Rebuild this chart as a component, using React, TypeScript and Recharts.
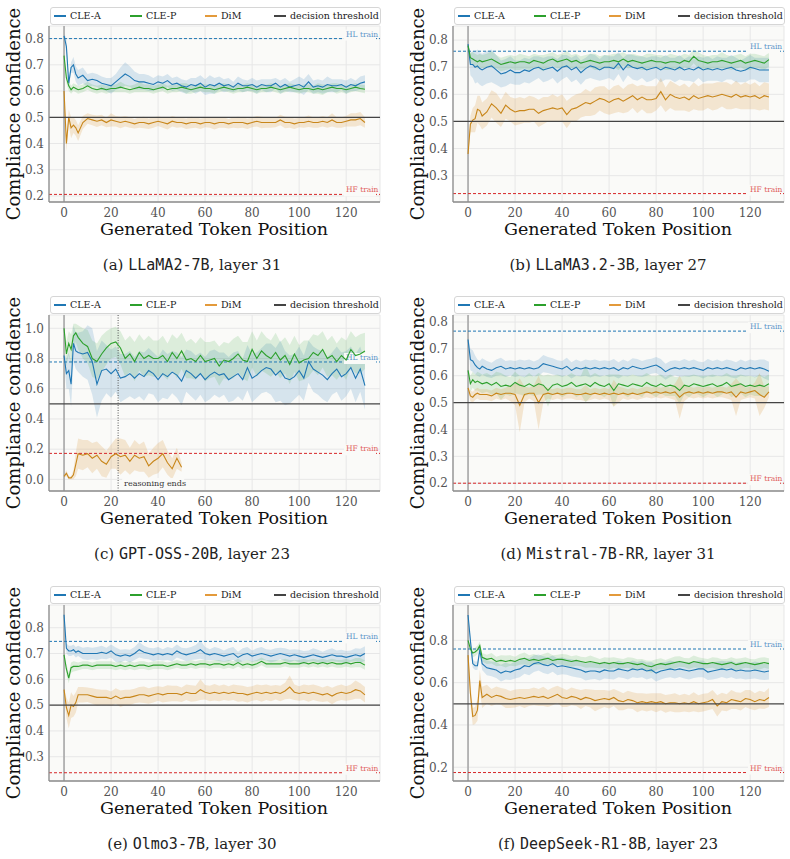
import {
  Area,
  CartesianGrid,
  ComposedChart,
  Line,
  ReferenceLine,
  XAxis,
  YAxis,
} from "recharts";

const SERIF = '"DejaVu Serif", serif';
const MONO = '"DejaVu Sans Mono", monospace';

const CLE_A_COLOR = "#1f77b4";
const CLE_P_COLOR = "#2ca02c";
const DIM_COLOR = "#c8861a";
const DIM_BAND = "#dc9c45";
const THRESHOLD_COLOR = "#444444";

const TOKENS = [
  0, 1, 2, 3, 4, 5, 6,
  8, 10, 12, 14, 16, 18, 20, 22, 24, 26,
  28, 30, 32, 34, 36, 38, 40, 42, 44, 46,
  48, 50, 52, 54, 56, 58, 60, 62, 64, 66,
  68, 70, 72, 74, 76, 78, 80, 82, 84, 86,
  88, 90, 92, 94, 96, 98, 100, 102, 104, 106,
  108, 110, 112, 114, 116, 118, 120, 122, 124, 126,
  128,
];
const X_TICKS = [0, 20, 40, 60, 80, 100, 120];

const LEGEND_ITEMS = [
  { label: "CLE-A", color: CLE_A_COLOR, offset: 3 },
  { label: "CLE-P", color: CLE_P_COLOR, offset: 79 },
  { label: "DiM", color: "#e39a3b", offset: 154 },
  { label: "decision threshold", color: THRESHOLD_COLOR, offset: 223 },
];

// (a) LLaMA2-7B
const llamaCleA = [
  0.81, 0.77, 0.63, 0.69, 0.70, 0.665, 0.65,
  0.66, 0.64, 0.645, 0.64, 0.63, 0.625, 0.62, 0.635, 0.65, 0.665,
  0.655, 0.64, 0.635, 0.635, 0.63, 0.625, 0.635, 0.63, 0.64, 0.625,
  0.63, 0.62, 0.615, 0.625, 0.62, 0.63, 0.615, 0.625, 0.62, 0.63,
  0.62, 0.625, 0.615, 0.63, 0.62, 0.62, 0.625, 0.615, 0.625, 0.62,
  0.62, 0.63, 0.615, 0.625, 0.615, 0.62, 0.625, 0.615, 0.635, 0.615,
  0.62, 0.615, 0.625, 0.62, 0.62, 0.625, 0.615, 0.625, 0.62, 0.63,
  0.635,
];
const llamaCleASpread = [
  0.01, 0.03, 0.02, 0.02, 0.03, 0.03, 0.03,
  0.03, 0.025, 0.025, 0.025, 0.025, 0.025, 0.03, 0.03, 0.04, 0.045,
  0.04, 0.035, 0.03, 0.03, 0.03, 0.025, 0.025, 0.025, 0.025, 0.025,
  0.025, 0.025, 0.025, 0.025, 0.03, 0.03, 0.03, 0.035, 0.03, 0.025,
  0.025, 0.025, 0.02, 0.025, 0.025, 0.02, 0.025, 0.025, 0.02, 0.025,
  0.025, 0.02, 0.025, 0.025, 0.02, 0.025, 0.03, 0.03, 0.03, 0.025,
  0.025, 0.025, 0.03, 0.025, 0.025, 0.02, 0.025, 0.025, 0.02, 0.025,
  0.025,
];
const llamaCleP = [
  0.735, 0.65, 0.62, 0.605, 0.615, 0.61, 0.605,
  0.61, 0.62, 0.61, 0.605, 0.61, 0.605, 0.61, 0.61, 0.615, 0.61,
  0.605, 0.61, 0.615, 0.61, 0.61, 0.605, 0.61, 0.615, 0.605, 0.61,
  0.61, 0.615, 0.61, 0.605, 0.61, 0.615, 0.61, 0.61, 0.605, 0.61,
  0.615, 0.61, 0.605, 0.61, 0.61, 0.615, 0.61, 0.605, 0.61, 0.61,
  0.615, 0.61, 0.605, 0.61, 0.615, 0.61, 0.605, 0.61, 0.61, 0.605,
  0.61, 0.605, 0.61, 0.615, 0.61, 0.61, 0.605, 0.61, 0.615, 0.61,
  0.607,
];
const llamaClePSpread = [
  0.01, 0.02, 0.02, 0.015, 0.015, 0.015, 0.015,
  0.015, 0.015, 0.015, 0.015, 0.015, 0.015, 0.015, 0.015, 0.02, 0.015,
  0.015, 0.015, 0.02, 0.015, 0.015, 0.015, 0.015, 0.015, 0.015, 0.015,
  0.015, 0.015, 0.02, 0.015, 0.015, 0.015, 0.015, 0.015, 0.015, 0.015,
  0.015, 0.015, 0.015, 0.015, 0.015, 0.015, 0.015, 0.015, 0.015, 0.015,
  0.015, 0.015, 0.015, 0.015, 0.015, 0.015, 0.015, 0.015, 0.015, 0.015,
  0.02, 0.02, 0.015, 0.015, 0.02, 0.015, 0.015, 0.015, 0.015, 0.015,
  0.015,
];
const llamaDim = [
  0.60, 0.40, 0.50, 0.46, 0.47, 0.46, 0.44,
  0.48, 0.495, 0.49, 0.485, 0.49, 0.48, 0.49, 0.485, 0.48, 0.485,
  0.48, 0.475, 0.48, 0.48, 0.475, 0.48, 0.485, 0.48, 0.475, 0.485,
  0.48, 0.48, 0.475, 0.48, 0.48, 0.475, 0.48, 0.48, 0.475, 0.48,
  0.48, 0.475, 0.48, 0.48, 0.48, 0.475, 0.48, 0.485, 0.48, 0.48,
  0.48, 0.48, 0.49, 0.48, 0.48, 0.475, 0.48, 0.48, 0.485, 0.48,
  0.48, 0.485, 0.48, 0.49, 0.48, 0.48, 0.485, 0.49, 0.49, 0.495,
  0.48,
];
const llamaDimSpread = [
  0.01, 0.03, 0.03, 0.04, 0.03, 0.03, 0.03,
  0.025, 0.02, 0.02, 0.022, 0.02, 0.018, 0.025, 0.02, 0.022, 0.02,
  0.02, 0.018, 0.02, 0.022, 0.02, 0.02, 0.018, 0.02, 0.022, 0.02,
  0.02, 0.018, 0.02, 0.022, 0.02, 0.02, 0.018, 0.02, 0.022, 0.02,
  0.02, 0.018, 0.02, 0.022, 0.02, 0.02, 0.018, 0.02, 0.022, 0.02,
  0.02, 0.018, 0.02, 0.022, 0.02, 0.02, 0.018, 0.02, 0.022, 0.02,
  0.02, 0.02, 0.02, 0.025, 0.02, 0.02, 0.02, 0.025, 0.025, 0.025,
  0.02,
];

// (b) LLaMA3.2-3B
const llama3CleA = [
  0.785, 0.71, 0.71, 0.70, 0.705, 0.695, 0.69,
  0.70, 0.705, 0.69, 0.675, 0.68, 0.69, 0.68, 0.68, 0.69, 0.685,
  0.695, 0.70, 0.69, 0.695, 0.70, 0.685, 0.70, 0.705, 0.69, 0.70,
  0.68, 0.695, 0.705, 0.70, 0.69, 0.70, 0.70, 0.695, 0.715, 0.69,
  0.71, 0.70, 0.695, 0.70, 0.69, 0.695, 0.70, 0.69, 0.70, 0.695,
  0.69, 0.70, 0.69, 0.695, 0.69, 0.70, 0.69, 0.695, 0.69, 0.695,
  0.69, 0.695, 0.70, 0.69, 0.685, 0.69, 0.70, 0.695, 0.69, 0.69,
  0.69,
];
const llama3CleASpread = [
  0.01, 0.04, 0.05, 0.06, 0.06, 0.06, 0.06,
  0.06, 0.06, 0.055, 0.05, 0.05, 0.05, 0.045, 0.045, 0.045, 0.045,
  0.045, 0.04, 0.045, 0.045, 0.04, 0.045, 0.045, 0.04, 0.045, 0.045,
  0.045, 0.04, 0.045, 0.045, 0.04, 0.045, 0.04, 0.045, 0.04, 0.045,
  0.04, 0.045, 0.045, 0.04, 0.045, 0.045, 0.04, 0.045, 0.045, 0.04,
  0.045, 0.045, 0.04, 0.045, 0.045, 0.04, 0.045, 0.045, 0.04, 0.045,
  0.045, 0.04, 0.045, 0.045, 0.04, 0.045, 0.045, 0.04, 0.045, 0.045,
  0.045,
];
const llama3CleP = [
  0.78, 0.735, 0.73, 0.725, 0.72, 0.725, 0.72,
  0.725, 0.73, 0.72, 0.71, 0.715, 0.72, 0.715, 0.72, 0.72, 0.715,
  0.725, 0.72, 0.715, 0.725, 0.73, 0.72, 0.725, 0.73, 0.72, 0.725,
  0.715, 0.72, 0.725, 0.72, 0.715, 0.72, 0.72, 0.725, 0.72, 0.73,
  0.72, 0.725, 0.72, 0.715, 0.72, 0.725, 0.72, 0.72, 0.715, 0.72,
  0.72, 0.715, 0.725, 0.72, 0.74, 0.725, 0.72, 0.715, 0.72, 0.72,
  0.725, 0.72, 0.715, 0.72, 0.725, 0.715, 0.72, 0.725, 0.72, 0.715,
  0.728,
];
const llama3ClePSpread = [
  0.01, 0.02, 0.025, 0.025, 0.025, 0.025, 0.025,
  0.025, 0.03, 0.025, 0.025, 0.025, 0.025, 0.025, 0.03, 0.025, 0.025,
  0.025, 0.025, 0.03, 0.025, 0.025, 0.025, 0.025, 0.03, 0.025, 0.025,
  0.025, 0.025, 0.025, 0.03, 0.025, 0.025, 0.025, 0.025, 0.03, 0.025,
  0.025, 0.025, 0.025, 0.025, 0.03, 0.025, 0.025, 0.025, 0.025, 0.03,
  0.025, 0.025, 0.025, 0.025, 0.025, 0.03, 0.025, 0.025, 0.025, 0.025,
  0.03, 0.025, 0.025, 0.025, 0.025, 0.025, 0.03, 0.025, 0.025, 0.025,
  0.025,
];
const llama3Dim = [
  0.38, 0.49, 0.505, 0.51, 0.545, 0.54, 0.52,
  0.535, 0.565, 0.55, 0.53, 0.56, 0.545, 0.535, 0.54, 0.54, 0.545,
  0.545, 0.53, 0.54, 0.545, 0.55, 0.545, 0.55, 0.525, 0.545, 0.55,
  0.56, 0.57, 0.565, 0.575, 0.585, 0.58, 0.57, 0.58, 0.585, 0.575,
  0.585, 0.595, 0.58, 0.59, 0.58, 0.58, 0.585, 0.61, 0.58, 0.60,
  0.59, 0.585, 0.59, 0.58, 0.595, 0.585, 0.59, 0.595, 0.59, 0.595,
  0.60, 0.595, 0.59, 0.60, 0.59, 0.595, 0.59, 0.595, 0.585, 0.595,
  0.59,
];
const llama3DimSpread = [
  0.01, 0.03, 0.045, 0.05, 0.05, 0.055, 0.05,
  0.05, 0.05, 0.055, 0.05, 0.05, 0.045, 0.05, 0.05, 0.045, 0.05,
  0.045, 0.05, 0.05, 0.045, 0.05, 0.045, 0.05, 0.05, 0.045, 0.05,
  0.045, 0.05, 0.045, 0.05, 0.045, 0.05, 0.045, 0.05, 0.05, 0.045,
  0.05, 0.045, 0.05, 0.045, 0.05, 0.05, 0.045, 0.05, 0.045, 0.05,
  0.05, 0.045, 0.05, 0.045, 0.05, 0.045, 0.05, 0.045, 0.05, 0.05,
  0.045, 0.05, 0.045, 0.05, 0.045, 0.05, 0.045, 0.05, 0.045, 0.05,
  0.05,
];

// (c) GPT-OSS-20B
const gptCleA = [
  0.82, 0.70, 0.72, 0.63, 0.90, 0.85, 0.84,
  0.83, 0.84, 0.78, 0.63, 0.72, 0.73, 0.70, 0.73, 0.67, 0.68,
  0.70, 0.67, 0.70, 0.68, 0.72, 0.70, 0.66, 0.70, 0.68, 0.71,
  0.69, 0.65, 0.72, 0.70, 0.67, 0.70, 0.66, 0.69, 0.71, 0.69,
  0.70, 0.66, 0.68, 0.70, 0.66, 0.74, 0.67, 0.69, 0.72, 0.74,
  0.73, 0.69, 0.72, 0.67, 0.66, 0.68, 0.72, 0.67, 0.78, 0.73,
  0.71, 0.69, 0.66, 0.70, 0.73, 0.68, 0.70, 0.74, 0.67, 0.73,
  0.62,
];
const gptCleASpread = [
  0.02, 0.10, 0.12, 0.15, 0.12, 0.12, 0.13,
  0.15, 0.18, 0.22, 0.22, 0.20, 0.16, 0.16, 0.15, 0.16, 0.15,
  0.15, 0.14, 0.15, 0.16, 0.15, 0.14, 0.15, 0.16, 0.15, 0.14,
  0.15, 0.16, 0.14, 0.15, 0.15, 0.14, 0.15, 0.16, 0.15, 0.15,
  0.14, 0.15, 0.16, 0.15, 0.14, 0.15, 0.16, 0.15, 0.15, 0.16,
  0.17, 0.18, 0.20, 0.18, 0.16, 0.15, 0.16, 0.15, 0.14, 0.15,
  0.15, 0.16, 0.15, 0.14, 0.15, 0.16, 0.15, 0.14, 0.16, 0.15,
  0.16,
];
const gptCleP = [
  1.0, 0.83, 0.90, 0.86, 0.95, 0.97, 0.94,
  0.90, 0.88, 0.80, 0.78, 0.83, 0.87, 0.90, 0.91, 0.87, 0.80,
  0.83, 0.78, 0.84, 0.80, 0.82, 0.80, 0.80, 0.82, 0.78, 0.84,
  0.80, 0.85, 0.79, 0.80, 0.78, 0.82, 0.78, 0.79, 0.80, 0.75,
  0.79, 0.78, 0.80, 0.83, 0.79, 0.78, 0.86, 0.80, 0.85, 0.82,
  0.80, 0.84, 0.79, 0.82, 0.76, 0.83, 0.77, 0.79, 0.80, 0.84,
  0.82, 0.86, 0.80, 0.82, 0.78, 0.82, 0.79, 0.86, 0.82, 0.83,
  0.85,
];
const gptClePSpread = [
  0.01, 0.08, 0.08, 0.10, 0.08, 0.06, 0.08,
  0.10, 0.11, 0.12, 0.12, 0.12, 0.11, 0.10, 0.10, 0.11, 0.12,
  0.12, 0.13, 0.12, 0.12, 0.13, 0.12, 0.12, 0.13, 0.12, 0.12,
  0.13, 0.12, 0.12, 0.13, 0.12, 0.12, 0.13, 0.12, 0.12, 0.13,
  0.12, 0.12, 0.13, 0.12, 0.12, 0.13, 0.12, 0.12, 0.13, 0.12,
  0.12, 0.13, 0.12, 0.12, 0.13, 0.12, 0.12, 0.13, 0.12, 0.12,
  0.13, 0.12, 0.12, 0.13, 0.12, 0.12, 0.13, 0.12, 0.12, 0.13,
  0.12,
];
// DiM stops once the reasoning trace is over (token 50)
const gptDim = [
  0.02, 0.04, 0.01, 0.01, 0.03, 0.10, 0.17,
  0.16, 0.17, 0.14, 0.16, 0.12, 0.10, 0.15, 0.17, 0.15, 0.16,
  0.12, 0.16, 0.14, 0.15, 0.09, 0.12, 0.14, 0.17, 0.11, 0.07,
  0.14, 0.08,
];
const gptDimSpread = [
  0.01, 0.02, 0.01, 0.01, 0.03, 0.08, 0.10,
  0.10, 0.09, 0.10, 0.09, 0.10, 0.09, 0.08, 0.10, 0.12, 0.10,
  0.09, 0.10, 0.09, 0.10, 0.08, 0.09, 0.10, 0.09, 0.08, 0.07,
  0.07, 0.03,
];

// (d) Mistral-7B-RR
const mistralCleA = [
  0.735, 0.66, 0.655, 0.64, 0.63, 0.625, 0.635,
  0.625, 0.62, 0.63, 0.635, 0.625, 0.63, 0.625, 0.63, 0.625, 0.63,
  0.625, 0.63, 0.645, 0.64, 0.635, 0.63, 0.625, 0.635, 0.62, 0.63,
  0.625, 0.63, 0.625, 0.63, 0.625, 0.63, 0.625, 0.63, 0.62, 0.63,
  0.625, 0.635, 0.63, 0.625, 0.63, 0.635, 0.64, 0.63, 0.615, 0.625,
  0.63, 0.625, 0.63, 0.625, 0.63, 0.625, 0.62, 0.63, 0.625, 0.63,
  0.625, 0.63, 0.625, 0.62, 0.63, 0.625, 0.63, 0.625, 0.63, 0.625,
  0.617,
];
const mistralCleASpread = [
  0.01, 0.04, 0.04, 0.035, 0.03, 0.03, 0.03,
  0.03, 0.028, 0.03, 0.032, 0.03, 0.028, 0.03, 0.03, 0.032, 0.03,
  0.028, 0.03, 0.032, 0.03, 0.03, 0.028, 0.03, 0.032, 0.03, 0.03,
  0.028, 0.03, 0.032, 0.03, 0.03, 0.028, 0.03, 0.032, 0.03, 0.03,
  0.028, 0.03, 0.032, 0.03, 0.03, 0.028, 0.03, 0.032, 0.03, 0.03,
  0.028, 0.03, 0.032, 0.03, 0.03, 0.028, 0.03, 0.032, 0.03, 0.03,
  0.028, 0.03, 0.032, 0.03, 0.03, 0.028, 0.03, 0.032, 0.03, 0.035,
  0.035,
];
const mistralCleP = [
  0.62, 0.57, 0.585, 0.575, 0.58, 0.575, 0.57,
  0.575, 0.565, 0.575, 0.56, 0.565, 0.56, 0.575, 0.565, 0.56, 0.57,
  0.56, 0.57, 0.565, 0.545, 0.565, 0.57, 0.56, 0.565, 0.575, 0.56,
  0.565, 0.57, 0.56, 0.575, 0.565, 0.56, 0.57, 0.545, 0.57, 0.565,
  0.56, 0.57, 0.565, 0.56, 0.575, 0.565, 0.56, 0.57, 0.56, 0.565,
  0.56, 0.545, 0.565, 0.56, 0.57, 0.565, 0.56, 0.565, 0.57, 0.56,
  0.565, 0.575, 0.56, 0.565, 0.57, 0.56, 0.565, 0.56, 0.565, 0.56,
  0.57,
];
const mistralClePSpread = [
  0.01, 0.03, 0.03, 0.03, 0.035, 0.035, 0.035,
  0.035, 0.035, 0.04, 0.05, 0.035, 0.035, 0.04, 0.035, 0.035, 0.04,
  0.035, 0.04, 0.035, 0.06, 0.035, 0.035, 0.04, 0.035, 0.035, 0.04,
  0.035, 0.07, 0.04, 0.035, 0.035, 0.04, 0.035, 0.06, 0.035, 0.035,
  0.04, 0.035, 0.035, 0.04, 0.035, 0.035, 0.04, 0.035, 0.035, 0.04,
  0.035, 0.05, 0.035, 0.04, 0.035, 0.035, 0.04, 0.035, 0.035, 0.04,
  0.035, 0.035, 0.04, 0.035, 0.035, 0.04, 0.035, 0.035, 0.04, 0.035,
  0.035,
];
const mistralDim = [
  0.555, 0.525, 0.52, 0.53, 0.535, 0.53, 0.53,
  0.53, 0.525, 0.535, 0.53, 0.535, 0.535, 0.53, 0.49, 0.53, 0.535,
  0.535, 0.50, 0.53, 0.535, 0.53, 0.535, 0.53, 0.535, 0.535, 0.53,
  0.53, 0.535, 0.53, 0.535, 0.53, 0.535, 0.53, 0.535, 0.53, 0.535,
  0.53, 0.535, 0.53, 0.535, 0.54, 0.535, 0.54, 0.535, 0.54, 0.535,
  0.54, 0.52, 0.535, 0.54, 0.535, 0.54, 0.535, 0.54, 0.535, 0.54,
  0.54, 0.535, 0.54, 0.52, 0.54, 0.535, 0.54, 0.545, 0.53, 0.52,
  0.54,
];
const mistralDimSpread = [
  0.01, 0.02, 0.02, 0.02, 0.02, 0.02, 0.02,
  0.02, 0.02, 0.02, 0.02, 0.02, 0.03, 0.04, 0.10, 0.03, 0.02,
  0.03, 0.10, 0.03, 0.02, 0.02, 0.02, 0.02, 0.02, 0.02, 0.02,
  0.02, 0.03, 0.02, 0.02, 0.02, 0.02, 0.02, 0.05, 0.03, 0.02,
  0.02, 0.02, 0.02, 0.02, 0.02, 0.02, 0.02, 0.02, 0.02, 0.02,
  0.03, 0.08, 0.03, 0.02, 0.02, 0.02, 0.02, 0.02, 0.02, 0.02,
  0.02, 0.02, 0.03, 0.07, 0.03, 0.02, 0.02, 0.03, 0.08, 0.04,
  0.02,
];

// (e) Olmo3-7B
const olmoCleA = [
  0.85, 0.72, 0.71, 0.71, 0.715, 0.705, 0.71,
  0.70, 0.70, 0.70, 0.70, 0.705, 0.70, 0.71, 0.695, 0.69, 0.695,
  0.69, 0.70, 0.715, 0.705, 0.70, 0.695, 0.70, 0.695, 0.70, 0.695,
  0.71, 0.70, 0.695, 0.70, 0.705, 0.715, 0.70, 0.695, 0.70, 0.695,
  0.69, 0.695, 0.70, 0.685, 0.695, 0.70, 0.69, 0.695, 0.70, 0.695,
  0.69, 0.695, 0.70, 0.695, 0.69, 0.695, 0.69, 0.685, 0.69, 0.695,
  0.69, 0.685, 0.69, 0.695, 0.69, 0.69, 0.685, 0.69, 0.695, 0.69,
  0.70,
];
const olmoCleASpread = [
  0.01, 0.02, 0.02, 0.02, 0.02, 0.02, 0.02,
  0.022, 0.025, 0.022, 0.025, 0.025, 0.022, 0.025, 0.028, 0.025, 0.022,
  0.025, 0.025, 0.03, 0.025, 0.022, 0.025, 0.025, 0.022, 0.025, 0.025,
  0.025, 0.022, 0.025, 0.025, 0.028, 0.035, 0.025, 0.022, 0.025, 0.025,
  0.022, 0.025, 0.025, 0.022, 0.025, 0.025, 0.022, 0.025, 0.025, 0.022,
  0.025, 0.025, 0.022, 0.025, 0.025, 0.022, 0.025, 0.025, 0.022, 0.025,
  0.025, 0.022, 0.025, 0.025, 0.022, 0.025, 0.025, 0.022, 0.025, 0.028,
  0.028,
];
const olmoCleP = [
  0.695, 0.64, 0.605, 0.645, 0.65, 0.65, 0.65,
  0.655, 0.655, 0.65, 0.655, 0.655, 0.655, 0.655, 0.65, 0.655, 0.65,
  0.655, 0.65, 0.655, 0.655, 0.65, 0.655, 0.655, 0.655, 0.65, 0.655,
  0.66, 0.655, 0.655, 0.66, 0.655, 0.66, 0.66, 0.655, 0.66, 0.66,
  0.655, 0.66, 0.655, 0.665, 0.655, 0.66, 0.655, 0.66, 0.67, 0.66,
  0.66, 0.66, 0.66, 0.665, 0.66, 0.66, 0.66, 0.665, 0.66, 0.665,
  0.66, 0.665, 0.66, 0.665, 0.66, 0.66, 0.665, 0.66, 0.665, 0.665,
  0.655,
];
const olmoClePSpread = [
  0.01, 0.02, 0.02, 0.02, 0.02, 0.018, 0.015,
  0.015, 0.015, 0.015, 0.015, 0.015, 0.015, 0.015, 0.015, 0.015, 0.015,
  0.015, 0.015, 0.015, 0.015, 0.015, 0.015, 0.015, 0.015, 0.015, 0.015,
  0.015, 0.015, 0.015, 0.015, 0.015, 0.015, 0.015, 0.015, 0.015, 0.015,
  0.015, 0.015, 0.015, 0.015, 0.015, 0.015, 0.015, 0.015, 0.015, 0.015,
  0.015, 0.015, 0.015, 0.015, 0.015, 0.015, 0.015, 0.015, 0.015, 0.015,
  0.015, 0.015, 0.015, 0.015, 0.015, 0.015, 0.015, 0.015, 0.018, 0.018,
  0.018,
];
const olmoDim = [
  0.56, 0.49, 0.46, 0.50, 0.495, 0.51, 0.54,
  0.54, 0.54, 0.535, 0.53, 0.53, 0.53, 0.525, 0.535, 0.525, 0.53,
  0.53, 0.535, 0.54, 0.54, 0.535, 0.54, 0.545, 0.54, 0.545, 0.545,
  0.545, 0.54, 0.55, 0.545, 0.545, 0.56, 0.55, 0.545, 0.55, 0.545,
  0.55, 0.545, 0.55, 0.545, 0.545, 0.54, 0.545, 0.55, 0.545, 0.55,
  0.545, 0.55, 0.545, 0.555, 0.57, 0.55, 0.545, 0.55, 0.545, 0.55,
  0.545, 0.54, 0.545, 0.535, 0.545, 0.55, 0.545, 0.55, 0.56, 0.555,
  0.54,
];
const olmoDimSpread = [
  0.01, 0.04, 0.05, 0.05, 0.04, 0.04, 0.03,
  0.03, 0.028, 0.03, 0.032, 0.03, 0.03, 0.028, 0.03, 0.032, 0.03,
  0.03, 0.028, 0.03, 0.032, 0.03, 0.03, 0.028, 0.03, 0.032, 0.03,
  0.03, 0.028, 0.03, 0.032, 0.03, 0.04, 0.028, 0.03, 0.032, 0.03,
  0.03, 0.028, 0.03, 0.032, 0.03, 0.03, 0.028, 0.03, 0.032, 0.03,
  0.03, 0.028, 0.03, 0.032, 0.045, 0.03, 0.028, 0.03, 0.032, 0.03,
  0.03, 0.028, 0.03, 0.032, 0.03, 0.03, 0.028, 0.03, 0.035, 0.03,
  0.03,
];

// (f) DeepSeek-R1-8B
const deepseekCleA = [
  0.92, 0.80, 0.69, 0.68, 0.68, 0.755, 0.69,
  0.67, 0.665, 0.66, 0.645, 0.655, 0.65, 0.66, 0.665, 0.68, 0.675,
  0.69, 0.695, 0.685, 0.68, 0.69, 0.675, 0.68, 0.675, 0.67, 0.665,
  0.66, 0.65, 0.655, 0.655, 0.65, 0.66, 0.655, 0.655, 0.665, 0.66,
  0.655, 0.665, 0.66, 0.665, 0.655, 0.66, 0.645, 0.655, 0.66, 0.665,
  0.66, 0.665, 0.66, 0.655, 0.66, 0.665, 0.665, 0.65, 0.655, 0.66,
  0.665, 0.66, 0.665, 0.655, 0.66, 0.655, 0.655, 0.66, 0.655, 0.65,
  0.655,
];
const deepseekCleASpread = [
  0.01, 0.02, 0.02, 0.02, 0.02, 0.02, 0.03,
  0.035, 0.035, 0.038, 0.04, 0.04, 0.038, 0.04, 0.04, 0.038, 0.04,
  0.04, 0.038, 0.04, 0.04, 0.038, 0.04, 0.04, 0.038, 0.04, 0.04,
  0.038, 0.04, 0.04, 0.038, 0.04, 0.04, 0.038, 0.04, 0.04, 0.038,
  0.04, 0.04, 0.038, 0.04, 0.04, 0.038, 0.04, 0.04, 0.038, 0.04,
  0.04, 0.038, 0.04, 0.04, 0.038, 0.04, 0.04, 0.038, 0.04, 0.04,
  0.038, 0.04, 0.04, 0.038, 0.04, 0.04, 0.038, 0.04, 0.04, 0.038,
  0.04,
];
const deepseekCleP = [
  0.80, 0.76, 0.74, 0.745, 0.755, 0.775, 0.72,
  0.71, 0.715, 0.70, 0.705, 0.70, 0.705, 0.70, 0.71, 0.715, 0.705,
  0.71, 0.705, 0.71, 0.715, 0.705, 0.71, 0.71, 0.705, 0.70, 0.705,
  0.70, 0.695, 0.70, 0.695, 0.69, 0.695, 0.69, 0.695, 0.69, 0.69,
  0.695, 0.69, 0.685, 0.69, 0.68, 0.675, 0.685, 0.69, 0.685, 0.69,
  0.695, 0.70, 0.695, 0.69, 0.70, 0.695, 0.69, 0.69, 0.695, 0.69,
  0.685, 0.69, 0.695, 0.685, 0.69, 0.695, 0.69, 0.685, 0.69, 0.695,
  0.69,
];
const deepseekClePSpread = [
  0.01, 0.02, 0.02, 0.02, 0.02, 0.02, 0.02,
  0.022, 0.025, 0.022, 0.025, 0.028, 0.025, 0.022, 0.025, 0.028, 0.025,
  0.025, 0.022, 0.025, 0.028, 0.025, 0.022, 0.025, 0.028, 0.025, 0.025,
  0.022, 0.025, 0.028, 0.025, 0.022, 0.025, 0.028, 0.025, 0.025, 0.022,
  0.025, 0.028, 0.025, 0.022, 0.025, 0.028, 0.025, 0.025, 0.022, 0.025,
  0.028, 0.025, 0.022, 0.025, 0.028, 0.025, 0.025, 0.022, 0.025, 0.028,
  0.025, 0.022, 0.025, 0.028, 0.025, 0.025, 0.022, 0.025, 0.028, 0.025,
  0.025,
];
const deepseekDim = [
  0.73, 0.55, 0.44, 0.445, 0.47, 0.61, 0.53,
  0.545, 0.53, 0.54, 0.535, 0.525, 0.52, 0.525, 0.53, 0.525, 0.53,
  0.535, 0.53, 0.535, 0.525, 0.535, 0.545, 0.53, 0.525, 0.535, 0.53,
  0.52, 0.53, 0.525, 0.515, 0.52, 0.525, 0.52, 0.53, 0.515, 0.51,
  0.52, 0.515, 0.505, 0.51, 0.505, 0.51, 0.505, 0.51, 0.50, 0.505,
  0.505, 0.50, 0.505, 0.50, 0.51, 0.50, 0.505, 0.51, 0.52, 0.49,
  0.51, 0.505, 0.52, 0.515, 0.51, 0.525, 0.52, 0.51, 0.52, 0.515,
  0.53,
];
const deepseekDimSpread = [
  0.01, 0.05, 0.04, 0.04, 0.05, 0.05, 0.05,
  0.045, 0.04, 0.042, 0.04, 0.045, 0.04, 0.042, 0.04, 0.045, 0.04,
  0.042, 0.04, 0.045, 0.04, 0.042, 0.04, 0.045, 0.04, 0.042, 0.04,
  0.045, 0.04, 0.042, 0.05, 0.045, 0.04, 0.042, 0.04, 0.045, 0.04,
  0.042, 0.04, 0.045, 0.04, 0.042, 0.04, 0.045, 0.04, 0.042, 0.04,
  0.045, 0.04, 0.042, 0.04, 0.045, 0.04, 0.042, 0.04, 0.045, 0.05,
  0.042, 0.04, 0.045, 0.04, 0.042, 0.04, 0.045, 0.04, 0.042, 0.04,
  0.045,
];

type Panel = {
  key: string;
  left: number;
  top: number;
  captionX: number;
  yDomain: [number, number];
  yTicks: number[];
  hlTrain: number;
  hfTrain: number;
  reasoningEnds?: number;
  cleA: number[];
  cleASpread: number[];
  cleP: number[];
  clePSpread: number[];
  dim: number[];
  dimSpread: number[];
  letter: string;
  model: string;
  layer: number;
};

const PANELS: Panel[] = [
  {
    key: "a", left: 0, top: 0, captionX: 192,
    yDomain: [0.177, 0.848], yTicks: [0.2, 0.3, 0.4, 0.5, 0.6, 0.7, 0.8],
    hlTrain: 0.8, hfTrain: 0.206,
    cleA: llamaCleA, cleASpread: llamaCleASpread, cleP: llamaCleP, clePSpread: llamaClePSpread,
    dim: llamaDim, dimSpread: llamaDimSpread,
    letter: "a", model: "LLaMA2-7B", layer: 31,
  },
  {
    key: "b", left: 404, top: 0, captionX: 204,
    yDomain: [0.203, 0.852], yTicks: [0.3, 0.4, 0.5, 0.6, 0.7, 0.8],
    hlTrain: 0.759, hfTrain: 0.234,
    cleA: llama3CleA, cleASpread: llama3CleASpread, cleP: llama3CleP, clePSpread: llama3ClePSpread,
    dim: llama3Dim, dimSpread: llama3DimSpread,
    letter: "b", model: "LLaMA3.2-3B", layer: 27,
  },
  {
    key: "c", left: 0, top: 289, captionX: 192,
    yDomain: [-0.077, 1.088], yTicks: [0, 0.2, 0.4, 0.6, 0.8, 1.0],
    hlTrain: 0.777, hfTrain: 0.172, reasoningEnds: 23,
    cleA: gptCleA, cleASpread: gptCleASpread, cleP: gptCleP, clePSpread: gptClePSpread,
    dim: gptDim, dimSpread: gptDimSpread,
    letter: "c", model: "GPT-OSS-20B", layer: 23,
  },
  {
    key: "d", left: 404, top: 289, captionX: 204,
    yDomain: [0.171, 0.826], yTicks: [0.2, 0.3, 0.4, 0.5, 0.6, 0.7, 0.8],
    hlTrain: 0.766, hfTrain: 0.2,
    cleA: mistralCleA, cleASpread: mistralCleASpread, cleP: mistralCleP, clePSpread: mistralClePSpread,
    dim: mistralDim, dimSpread: mistralDimSpread,
    letter: "d", model: "Mistral-7B-RR", layer: 31,
  },
  {
    key: "e", left: 0, top: 579, captionX: 192,
    yDomain: [0.206, 0.888], yTicks: [0.3, 0.4, 0.5, 0.6, 0.7, 0.8],
    hlTrain: 0.747, hfTrain: 0.238,
    cleA: olmoCleA, cleASpread: olmoCleASpread, cleP: olmoCleP, clePSpread: olmoClePSpread,
    dim: olmoDim, dimSpread: olmoDimSpread,
    letter: "e", model: "Olmo3-7B", layer: 30,
  },
  {
    key: "f", left: 404, top: 579, captionX: 204,
    yDomain: [0.135, 0.967], yTicks: [0.2, 0.4, 0.6, 0.8],
    hlTrain: 0.759, hfTrain: 0.175,
    cleA: deepseekCleA, cleASpread: deepseekCleASpread, cleP: deepseekCleP, clePSpread: deepseekClePSpread,
    dim: deepseekDim, dimSpread: deepseekDimSpread,
    letter: "f", model: "DeepSeek-R1-8B", layer: 23,
  },
];

function band(v: number | undefined, s: number | undefined) {
  if (v == null) return null;
  const d = s ?? 0;
  return [v - d, v + d];
}

function buildRows(p: Panel) {
  return TOKENS.map((t, i) => ({
    t,
    a: p.cleA[i] ?? null,
    aBand: band(p.cleA[i], p.cleASpread[i]),
    p: p.cleP[i] ?? null,
    pBand: band(p.cleP[i], p.clePSpread[i]),
    d: p.dim[i] ?? null,
    dBand: band(p.dim[i], p.dimSpread[i]),
  }));
}

// small "HL train" / "HF train" tag sitting on the right end of a dashed line
function trainTag(text: string, color: string) {
  return (props: any) => {
    const vb = props.viewBox;
    const right = vb.x + vb.width;
    return (
      <g>
        <rect x={right - 36} y={vb.y - 9} width={32} height={11} fill="#fafaf8" />
        <text x={right - 34} y={vb.y - 2} fontSize={7.5} fill={color} fontFamily={SERIF}>
          {text}
        </text>
      </g>
    );
  };
}

function reasoningTag(props: any) {
  const vb = props.viewBox;
  const y = vb.y + vb.height - 5;
  return (
    <g>
      <rect x={vb.x + 4} y={y - 8} width={62} height={11} fill="#fafaf8" />
      <text x={vb.x + 6} y={y} fontSize={8} fill="#333" fontFamily={SERIF}>
        reasoning ends
      </text>
    </g>
  );
}

function LegendBox() {
  return (
    <div
      style={{
        position: "absolute",
        left: 50,
        top: 7,
        width: 329,
        height: 16,
        border: "1px solid #d6d6d6",
        borderRadius: 3,
        background: "#fff",
        fontFamily: SERIF,
        fontSize: 9.5,
        lineHeight: 1,
        color: "#222",
      }}
    >
      {LEGEND_ITEMS.map((item) => (
        <div
          key={item.label}
          style={{ position: "absolute", left: item.offset, top: 0, height: 16, display: "flex", alignItems: "center" }}
        >
          <span style={{ display: "inline-block", width: 12, height: 1.5, background: item.color, marginRight: 4 }} />
          <span style={{ whiteSpace: "nowrap" }}>{item.label}</span>
        </div>
      ))}
    </div>
  );
}

function PanelChart({ panel }: { panel: Panel }) {
  const rows = buildRows(panel);
  const tickStyle = { fill: "#555", fontSize: 12, fontFamily: SERIF };
  return (
    <div style={{ position: "absolute", left: panel.left, top: panel.top, width: 400, height: 285 }}>
      <ComposedChart width={400} height={230} data={rows} margin={{ top: 26, right: 20, bottom: 8, left: 0 }}>
        <CartesianGrid stroke="#e7e7e7" fill="#fafaf8" />
        <XAxis
          dataKey="t"
          type="number"
          domain={[-6.4, 134.4]}
          ticks={X_TICKS}
          allowDataOverflow
          height={20}
          tickLine={false}
          tickSize={4}
          tickMargin={2}
          axisLine={{ stroke: "#8c8c8c", strokeWidth: 1.3 }}
          tick={tickStyle}
        />
        <YAxis
          type="number"
          domain={panel.yDomain}
          ticks={panel.yTicks}
          allowDataOverflow
          width={49}
          tickLine={false}
          tickSize={4}
          tickMargin={1}
          tickFormatter={(v: number) => v.toFixed(1)}
          axisLine={{ stroke: "#8c8c8c", strokeWidth: 1.3 }}
          tick={tickStyle}
        />
        <ReferenceLine x={0} stroke="#a3a3a3" strokeWidth={1.5} />
        <Area dataKey="aBand" stroke="none" fill={CLE_A_COLOR} fillOpacity={0.16} isAnimationActive={false} />
        <Area dataKey="pBand" stroke="none" fill={CLE_P_COLOR} fillOpacity={0.14} isAnimationActive={false} />
        <Area dataKey="dBand" stroke="none" fill={DIM_BAND} fillOpacity={0.22} isAnimationActive={false} />
        <ReferenceLine
          y={panel.hlTrain}
          stroke={CLE_A_COLOR}
          strokeDasharray="3 2"
          strokeWidth={1}
          label={trainTag("HL train", "#5b95c9")}
        />
        <ReferenceLine
          y={panel.hfTrain}
          stroke="#d62728"
          strokeDasharray="3 2"
          strokeWidth={1}
          label={trainTag("HF train", "#e05a5a")}
        />
        {panel.reasoningEnds != null && (
          <ReferenceLine
            x={panel.reasoningEnds}
            stroke="#555"
            strokeDasharray="1 1.5"
            strokeWidth={1}
            label={reasoningTag}
          />
        )}
        <Line dataKey="a" type="linear" stroke={CLE_A_COLOR} strokeWidth={1.1} dot={false} isAnimationActive={false} />
        <Line dataKey="p" type="linear" stroke={CLE_P_COLOR} strokeWidth={1.1} dot={false} isAnimationActive={false} />
        <Line dataKey="d" type="linear" stroke={DIM_COLOR} strokeWidth={1.1} dot={false} isAnimationActive={false} />
        <ReferenceLine y={0.5} stroke={THRESHOLD_COLOR} strokeWidth={1.2} />
      </ComposedChart>
      <LegendBox />
      <div
        style={{
          position: "absolute",
          left: 14,
          top: 114,
          transform: "translate(-50%, -50%) rotate(-90deg)",
          whiteSpace: "nowrap",
          fontFamily: SERIF,
          fontSize: 18,
          lineHeight: 1,
          color: "#111",
        }}
      >
        Compliance confidence
      </div>
      <div
        style={{
          position: "absolute",
          left: 214,
          top: 230,
          transform: "translate(-50%, -50%)",
          whiteSpace: "nowrap",
          fontFamily: SERIF,
          fontSize: 17.5,
          lineHeight: 1,
          color: "#111",
        }}
      >
        Generated Token Position
      </div>
      <div
        style={{
          position: "absolute",
          left: panel.captionX,
          top: 265,
          transform: "translate(-50%, -50%)",
          whiteSpace: "nowrap",
          fontFamily: SERIF,
          fontSize: 15,
          lineHeight: 1,
          color: "#222",
        }}
      >
        ({panel.letter}) <span style={{ fontFamily: MONO }}>{panel.model}</span>, layer {panel.layer}
      </div>
    </div>
  );
}

export default function App() {
  return (
    <div style={{ position: "absolute", left: 0, top: 0, width: 790, height: 859, background: "#fff" }}>
      {PANELS.map((panel) => (
        <PanelChart key={panel.key} panel={panel} />
      ))}
    </div>
  );
}
